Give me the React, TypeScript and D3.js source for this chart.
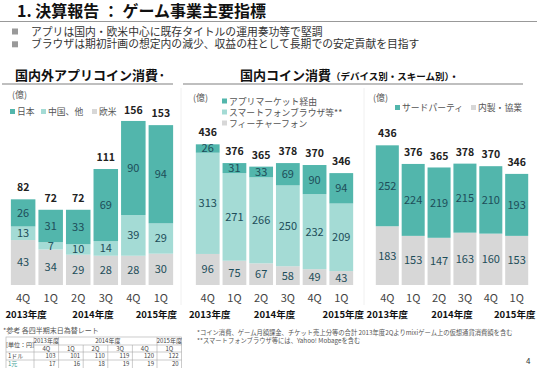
import React from 'react';
import * as d3 from 'd3';

const quarters = ['4Q', '1Q', '2Q', '3Q', '4Q', '1Q'];
const fiscalYears = ['2013年度', '2014年度', '2015年度'];

// 国内外アプリコイン消費（億）
const appJapan = [26, 31, 33, 69, 90, 94];
const appChina = [13, 7, 10, 14, 39, 29];
const appWest = [43, 34, 29, 28, 28, 30];
const appTotal = [82, 72, 72, 111, 156, 153];

// 国内コイン消費 デバイス別（億）
const devAppMarket = [26, 31, 33, 69, 90, 94];
const devSpBrowser = [313, 271, 266, 250, 232, 209];
const devFeature = [96, 75, 67, 58, 49, 43];
const coinTotal = [436, 376, 365, 378, 370, 346];

// 国内コイン消費 スキーム別（億）
const schemeThird = [252, 224, 219, 215, 210, 193];
const schemeInhouse = [183, 153, 147, 163, 160, 153];

// 為替レート
const fxUsd = [103, 101, 110, 119, 120, 122];
const fxCny = [17, 16, 18, 19, 19, 20];

const TEAL = '#52b6ac';
const LIGHT = '#a4dbd5';
const GRAY = '#d7d7d7';
const INK = '#1d4d59';
const FONT = "'Noto Sans CJK JP', 'Noto Sans', sans-serif";
const BASE = 285;

type Series = { name: string; values: number[]; color: string };

function StackPanel({ series, totals, x0, x1, yMax, yTop, yearShift }: {
  series: Series[]; totals: number[]; x0: number; x1: number; yMax: number; yTop: number; yearShift: number[];
}) {
  const x = d3.scaleBand<number>()
    .domain(d3.range(quarters.length))
    .range([x0, x1])
    .paddingInner(0.11)
    .paddingOuter(0.05);
  const y = d3.scaleLinear().domain([0, yMax]).range([BASE, yTop]);
  const rows = quarters.map((_, i) => {
    const r: Record<string, number> = {};
    series.forEach(s => { r[s.name] = s.values[i]; });
    return r;
  });
  const stacked = d3.stack<Record<string, number>>().keys(series.map(s => s.name))(rows);
  const bw = x.bandwidth();
  const cx = (i: number) => (x(i) as number) + bw / 2;
  const yearX = [cx(0), (cx(1) + cx(4)) / 2, cx(5)];

  return (
    <g>
      {stacked.map((layer, li) => (
        <g key={layer.key}>
          {layer.map((d, i) => (
            <g key={i}>
              <rect x={x(i)} y={y(d[1])} width={bw} height={y(d[0]) - y(d[1])} fill={series[li].color} />
              <text x={cx(i)} y={(y(d[0]) + y(d[1])) / 2} dy="0.36em" textAnchor="middle"
                fontSize={11} fill={INK}>{series[li].values[i]}</text>
            </g>
          ))}
        </g>
      ))}
      {totals.map((t, i) => (
        <text key={i} x={cx(i)} y={y(t) - 8} textAnchor="middle" fontSize={10.5}
          fontWeight="bold" fill="#222">{t}</text>
      ))}
      {quarters.map((q, i) => (
        <text key={i} x={cx(i)} y={302} textAnchor="middle" fontSize={11} fill="#444">{q}</text>
      ))}
      {fiscalYears.map((fy, i) => (
        <text key={fy} x={yearX[i] + yearShift[i]} y={318} textAnchor="middle" fontSize={9.5}
          fontWeight="bold" fill="#111">{fy}</text>
      ))}
    </g>
  );
}

function Legend({ items, x, y, dx, dy }: {
  items: { name: string; color: string }[]; x: number; y: number; dx: number[]; dy: number[];
}) {
  return (
    <g fontSize={8.8} fill="#555">
      {items.map((it, i) => (
        <g key={it.name} transform={`translate(${x + dx[i]},${y + dy[i]})`}>
          <rect x={0} y={-3} width={5} height={5} fill={it.color} />
          <text x={7} y={0} dy="0.35em">{it.name}</text>
        </g>
      ))}
    </g>
  );
}

function FxTable() {
  const left = 6;
  const firstW = 28;
  const colW = 24.6;
  const rowsY = [337, 345, 352, 360, 368];
  const colX = d3.range(quarters.length + 1).map(i => left + firstW + i * colW);
  const cx = (i: number) => colX[i] + colW / 2;
  const lc = '#aaa';
  return (
    <g fontSize={6} fill="#444">
      <text x={3} y={333} fontSize={7} fill="#555">*参考 各四半期末日為替レート</text>
      <rect x={left} y={rowsY[0]} width={colX[6] - left} height={rowsY[4] - rowsY[0] + 2} fill="none" stroke={lc} strokeWidth={0.6} />
      <line x1={colX[0]} x2={colX[0]} y1={rowsY[0]} y2={372} stroke={lc} strokeWidth={0.6} />
      <line x1={colX[1]} x2={colX[1]} y1={rowsY[0]} y2={372} stroke={lc} strokeWidth={0.6} />
      <line x1={colX[5]} x2={colX[5]} y1={rowsY[0]} y2={372} stroke={lc} strokeWidth={0.6} />
      {[2, 3, 4].map(i => (
        <line key={i} x1={colX[i]} x2={colX[i]} y1={rowsY[1]} y2={372} stroke={lc} strokeWidth={0.6} />
      ))}
      <line x1={colX[0]} x2={colX[6]} y1={rowsY[1]} y2={rowsY[1]} stroke={lc} strokeWidth={0.6} />
      {[2, 3].map(r => (
        <line key={r} x1={left} x2={colX[6]} y1={rowsY[r]} y2={rowsY[r]} stroke={lc} strokeWidth={0.6} />
      ))}
      <text x={left + firstW / 2} y={(rowsY[0] + rowsY[2]) / 2} dy="0.35em" textAnchor="middle">[単位：円]</text>
      <text x={cx(0)} y={rowsY[0] + 4} dy="0.35em" textAnchor="middle">2013年度</text>
      <text x={(colX[1] + colX[5]) / 2} y={rowsY[0] + 4} dy="0.35em" textAnchor="middle">2014年度</text>
      <text x={cx(5)} y={rowsY[0] + 4} dy="0.35em" textAnchor="middle">2015年度</text>
      {quarters.map((q, i) => (
        <text key={i} x={cx(i)} y={(rowsY[1] + rowsY[2]) / 2} dy="0.35em" textAnchor="middle">{q}</text>
      ))}
      <text x={left + 2} y={(rowsY[2] + rowsY[3]) / 2} dy="0.35em">1ドル</text>
      {fxUsd.map((v, i) => (
        <text key={i} x={colX[i] + colW - 3} y={(rowsY[2] + rowsY[3]) / 2} dy="0.35em" textAnchor="end">{v}</text>
      ))}
      <text x={left + 2} y={(rowsY[3] + rowsY[4]) / 2} dy="0.35em" fill="#3a9a90">1元</text>
      {fxCny.map((v, i) => (
        <text key={i} x={colX[i] + colW - 3} y={(rowsY[3] + rowsY[4]) / 2} dy="0.35em" textAnchor="end">{v}</text>
      ))}
    </g>
  );
}

export default function App() {
  const appSeries: Series[] = [
    { name: '欧米', values: appWest, color: GRAY },
    { name: '中国、他', values: appChina, color: LIGHT },
    { name: '日本', values: appJapan, color: TEAL },
  ];
  const devSeries: Series[] = [
    { name: 'フィーチャーフォン', values: devFeature, color: GRAY },
    { name: 'スマートフォンブラウザ等**', values: devSpBrowser, color: LIGHT },
    { name: 'アプリマーケット経由', values: devAppMarket, color: TEAL },
  ];
  const schemeSeries: Series[] = [
    { name: '内製・協業', values: schemeInhouse, color: GRAY },
    { name: 'サードパーティ', values: schemeThird, color: TEAL },
  ];

  return (
    <div style={{ position: 'absolute', left: 0, top: 0 }}>
      <svg width={537} height={368} fontFamily={FONT} style={{ display: 'block', background: '#fff' }}>
        {/* title */}
        <text x={17} y={17} fontSize={16} fontWeight="bold" fill="#111">1. 決算報告 ： ゲーム事業主要指標</text>
        <line x1={0} x2={537} y1={21.5} y2={21.5} stroke="#999" strokeWidth={1} />
        {['アプリは国内・欧米中心に既存タイトルの運用奏功等で堅調',
          'ブラウザは期初計画の想定内の減少、収益の柱として長期での安定貢献を目指す'].map((t, i) => (
          <g key={i} transform={`translate(0,${32 + i * 12.8})`}>
            <rect x={12} y={-3.5} width={6} height={6} fill="#999" />
            <text x={31} y={0} dy="0.34em" fontSize={10.8} fill="#333">{t}</text>
          </g>
        ))}

        {/* section headers */}
        <text x={15} y={80} fontSize={13} fontWeight="bold" fill="#111">国内外アプリコイン消費·</text>
        <line x1={2} x2={173} y1={84} y2={84} stroke="#aaa" strokeWidth={1.5} />
        <text x={240} y={80} fill="#111" fontWeight="bold">
          <tspan fontSize={13}>国内コイン消費</tspan>
          <tspan fontSize={9.5}>（デバイス別・スキーム別）・</tspan>
        </text>
        <line x1={183} x2={523} y1={84} y2={84} stroke="#aaa" strokeWidth={1.5} />

        {/* faint panel separators */}
        <line x1={181} x2={181} y1={88} y2={305} stroke="#f0f0f0" />
        <line x1={364} x2={364} y1={88} y2={305} stroke="#f0f0f0" />

        {/* unit labels */}
        <text x={12} y={98} fontSize={9} fill="#555">(億)</text>
        <text x={193} y={101} fontSize={9} fill="#555">(億)</text>
        <text x={373} y={101} fontSize={9} fill="#555">(億)</text>

        <Legend items={[...appSeries].reverse()} x={10} y={112} dx={[0, 31, 82]} dy={[0, 0, 0]} />
        <Legend items={[...devSeries].reverse()} x={222} y={101.5} dx={[0, 0, 0]} dy={[0, 11, 22]} />
        <Legend items={[...schemeSeries].reverse()} x={395} y={108} dx={[0, 76]} dy={[0, 0]} />

        <StackPanel series={appSeries} totals={appTotal} x0={9.5} x1={174.5} yMax={156} yTop={122} yearShift={[3, 1, -4.5]} />
        <StackPanel series={devSeries} totals={coinTotal} x0={194.5} x1={354.5} yMax={436} yTop={144} yearShift={[2, 0, 2]} />
        <StackPanel series={schemeSeries} totals={coinTotal} x0={374.5} x1={529.5} yMax={436} yTop={145} yearShift={[0, 0, -2]} />

        <FxTable />

        {/* footnotes */}
        <g fontSize={6.3} fill="#555">
          <text x={197} y={335}>*コイン消費、ゲーム月額課金、チケット売上分等の合計 2013年度2Qよりmixiゲーム上の仮想通貨消費額を含む</text>
          <text x={197} y={343}>**スマートフォンブラウザ等には、Yahoo! Mobageを含む</text>
        </g>
        <text x={526} y={364} fontSize={8} fill="#333">4</text>
      </svg>
    </div>
  );
}
